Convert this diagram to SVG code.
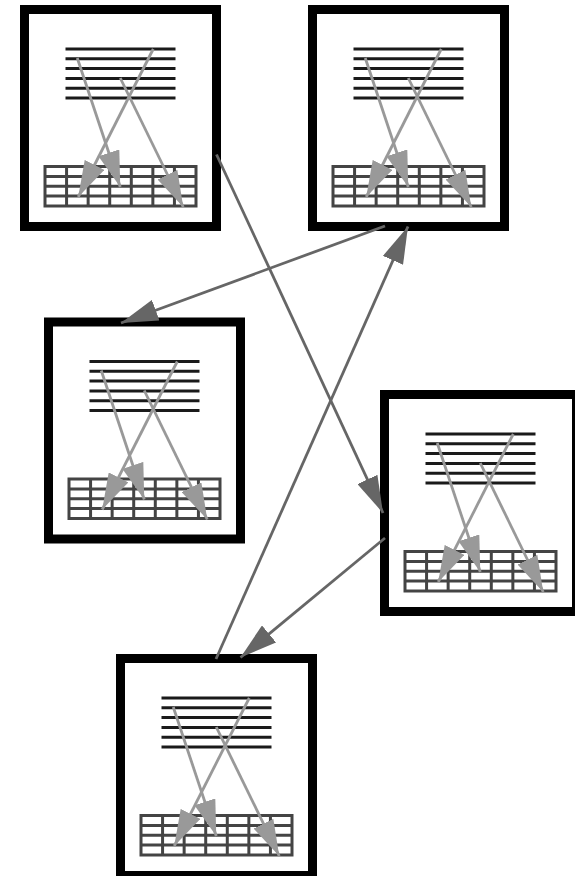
<svg xmlns="http://www.w3.org/2000/svg" xmlns:xlink="http://www.w3.org/1999/xlink" width="575" height="876" viewBox="0 0 575 876">
<style>
.frame{fill:#fff;stroke:#000;stroke-width:9}
.txt{stroke:#1a1a1a;stroke-width:3}
.tbl{fill:#fff;stroke:#444;stroke-width:3}
.tl{stroke:#444;stroke-width:3}
.inner{stroke:#999;stroke-width:2.8;fill:none;marker-end:url(#hIn)}
.conn{stroke:#666;stroke-width:2.8;fill:none;marker-end:url(#hOut)}
</style>
<defs>
<marker id="hIn" markerUnits="userSpaceOnUse" markerWidth="36" markerHeight="22" refX="36" refY="11" orient="auto" viewBox="0 0 36 22">
<path d="M0,0 L36,11 L0,22 Z" fill="#999"/>
</marker>
<marker id="hOut" markerUnits="userSpaceOnUse" markerWidth="37" markerHeight="22" refX="37" refY="11" orient="auto" viewBox="0 0 37 22">
<path d="M0,0 L37,11 L0,22 Z" fill="#666"/>
</marker>
<g id="doc">
<rect class="frame" x="0" y="0" width="192" height="217"/>
<g class="txt">
<line x1="41" y1="39.5" x2="151" y2="39.5"/>
<line x1="41" y1="49.3" x2="151" y2="49.3"/>
<line x1="41" y1="59.1" x2="151" y2="59.1"/>
<line x1="41" y1="68.9" x2="151" y2="68.9"/>
<line x1="41" y1="78.7" x2="151" y2="78.7"/>
<line x1="41" y1="88.5" x2="151" y2="88.5"/>
</g>
<rect class="tbl" x="20.5" y="157" width="151" height="39.5"/>
<g class="tl">
<line x1="20.5" y1="166.9" x2="171.5" y2="166.9"/>
<line x1="20.5" y1="176.75" x2="171.5" y2="176.75"/>
<line x1="20.5" y1="186.6" x2="171.5" y2="186.6"/>
<line x1="42.07" y1="157" x2="42.07" y2="196.5"/>
<line x1="63.64" y1="157" x2="63.64" y2="196.5"/>
<line x1="85.21" y1="157" x2="85.21" y2="196.5"/>
<line x1="106.79" y1="157" x2="106.79" y2="196.5"/>
<line x1="128.36" y1="157" x2="128.36" y2="196.5"/>
<line x1="149.93" y1="157" x2="149.93" y2="196.5"/>
</g>
<line class="inner" x1="52.75" y1="48.5" x2="95.75" y2="177.5"/>
<line class="inner" x1="128.75" y1="39.5" x2="53.75" y2="187.5"/>
<line class="inner" x1="95.75" y1="68.5" x2="158.75" y2="197.5"/>
</g>
</defs>
<g id="node1"><use xlink:href="#doc" href="#doc" transform="translate(24.5,9.5)"/></g>
<g id="node2"><use xlink:href="#doc" href="#doc" transform="translate(312.5,9.5)"/></g>
<g id="node3"><use xlink:href="#doc" href="#doc" transform="translate(48.5,322)"/></g>
<g id="node4"><use xlink:href="#doc" href="#doc" transform="translate(384.5,394.5)"/></g>
<g id="node5"><use xlink:href="#doc" href="#doc" transform="translate(120.5,658.5)"/></g>
<g id="connectors">
<line class="conn" x1="216.5" y1="154.5" x2="383" y2="513"/>
<line class="conn" x1="385" y1="226" x2="121" y2="323"/>
<line class="conn" x1="216" y1="659" x2="408" y2="226.5"/>
<line class="conn" x1="385" y1="538" x2="240.5" y2="657.5"/>
</g>
</svg>
